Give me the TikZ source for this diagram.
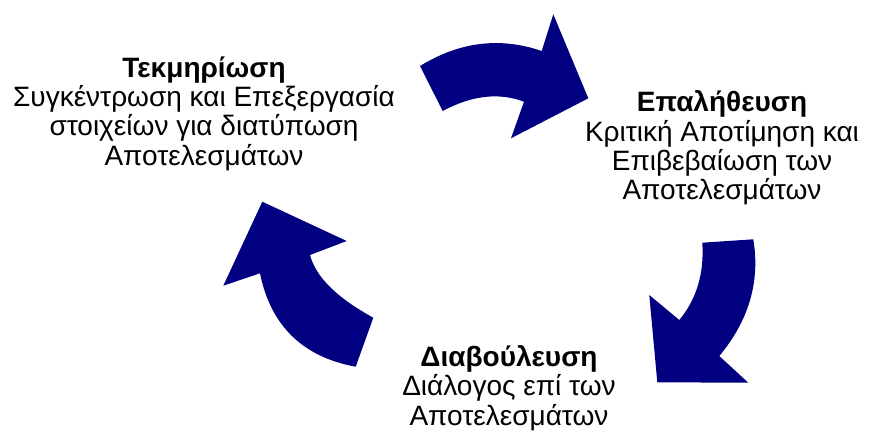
\documentclass[tikz,border=0pt]{standalone}
\usepackage{fontspec}
\setmainfont{Liberation Sans}
\begin{document}
\begin{tikzpicture}[x=0.75pt,y=-0.75pt,
  cyc/.style={fill={rgb,255:red,0;green,0;blue,128},draw=none},
  lbl/.style={align=center,anchor=base,inner sep=0pt,font=\fontsize{21}{22}\selectfont}]
\useasboundingbox (0,0) rectangle (872,437);
% arrow 1 (top)
\fill[cyc] (420,66) .. controls (459.7,41.7) and (500,36.7) .. (541.7,51)
  -- (553.3,14.3) -- (588.3,98.3) -- (511,138.3) -- (524,101.7)
  .. controls (499,92.3) and (472,95.3) .. (442.7,111) -- cycle;
% arrow 2 (right)
\fill[cyc] (753.3,239.3) .. controls (760.3,281.3) and (749,320.3) .. (719.3,356)
  -- (748.3,382.7) -- (657.3,382.3) -- (649.3,295) -- (679.3,320)
  .. controls (696.7,299) and (704.3,273.3) .. (702.3,242.7) -- cycle;
% arrow 3 (left)
\fill[cyc] (355.7,366.7) .. controls (302.7,357) and (270.7,325.7) .. (260,273.3)
  -- (223.3,285.7) -- (262.3,201.7) -- (346.7,241) -- (310,255)
  .. controls (315.7,276.7) and (336.7,297.7) .. (373.3,317.7) -- cycle;
\node[lbl] (tek) at (204,165) {\textbf{Τεκμηρίωση}\\Συγκέντρωση και Επεξεργασία\\στοιχείων για διατύπωση\\Αποτελεσμάτων};
\node[lbl] (epa) at (722,199.9) {\textbf{Επαλήθευση}\\Κριτική Αποτίμηση και\\Επιβεβαίωση των\\Αποτελεσμάτων};
\node[lbl] (dia) at (509,425.3) {\textbf{Διαβούλευση}\\Διάλογος επί των\\Αποτελεσμάτων};
\end{tikzpicture}
\end{document}
